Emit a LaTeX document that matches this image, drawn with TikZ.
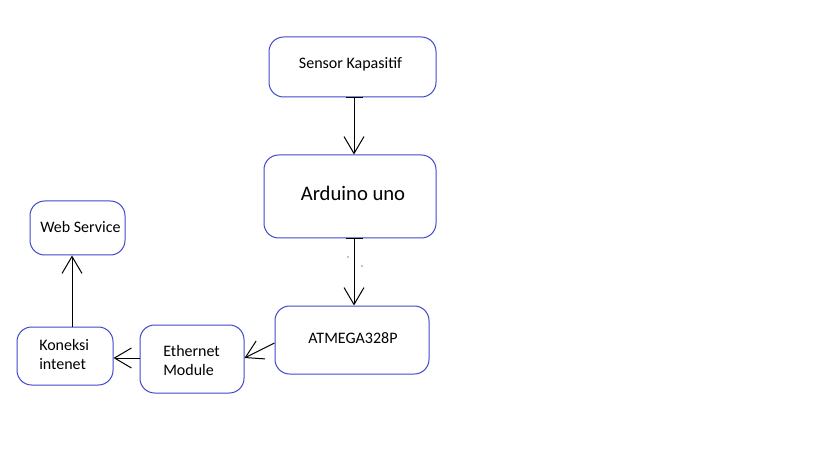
\documentclass[tikz,border=0pt]{standalone}
\usepackage{fontspec}
\setmainfont{Carlito}
\usetikzlibrary{arrows.meta}
\definecolor{boxblue}{RGB}{63,72,204}
\begin{document}
\begin{tikzpicture}[x=0.75pt,y=-0.75pt,
  blk/.style={draw=boxblue,line width=0.75pt,rounded corners=11pt,inner sep=0pt},
  lbl/.style={inner sep=0pt,font=\fontsize{12}{14.3}\selectfont},
  conn/.style={line width=0.75pt,-{Straight Barb[length=12.75pt,width=15pt,line width=0.75pt]}},
  barconn/.style={line width=0.75pt,{Bar[width=12.75pt,line width=0.75pt]}-{Straight Barb[length=12.75pt,width=15pt,line width=0.75pt]}}]
\useasboundingbox (0,0) rectangle (819,460);
\node[blk,minimum width=125.25pt,minimum height=45pt] (sensor) at (352.5,67) {};
\node[lbl] (tsensor) at (350.5,64) {Sensor Kapasitif};
\node[blk,minimum width=129pt,minimum height=62.25pt] (arduino) at (350,196.5) {};
\node[lbl,font=\fontsize{15.5}{18}\selectfont] (tarduino) at (353,193) {Arduino uno};
\node[blk,minimum width=115.5pt,minimum height=51pt] (atmega) at (352,340) {};
\node[lbl] (tatmega) at (353,338.5) {ATMEGA328P};
\node[blk,minimum width=71.25pt,minimum height=40.5pt] (web) at (77.5,228) {};
\node[lbl,anchor=west] (tweb) at (40,227) {Web Service};
\node[blk,minimum width=72pt,minimum height=43.5pt] (kon) at (65,356) {};
\node[lbl,anchor=west,align=left] (tkon) at (39,354.5) {Koneksi\\intenet};
\node[blk,minimum width=78pt,minimum height=51pt] (eth) at (192,359) {};
\node[lbl,anchor=west,align=left] (teth) at (163,360.5) {Ethernet\\Module};
\draw[barconn] (sensor.south -| 354,0) -- (arduino.north -| 354,0);
\draw[barconn] (arduino.south -| 354,0) -- (atmega.north -| 354,0);
\fill (348,257) circle (0.6);
\fill (362,266) circle (0.6);
\draw[conn] (atmega.west |- 0,343) -- (eth.east |- 0,358);
\draw[conn] (eth.west |- 0,358) -- (kon.east |- 0,358);
\draw[conn] (kon.north -| 72,0) -- (web.south -| 72,0);
\end{tikzpicture}
\end{document}
